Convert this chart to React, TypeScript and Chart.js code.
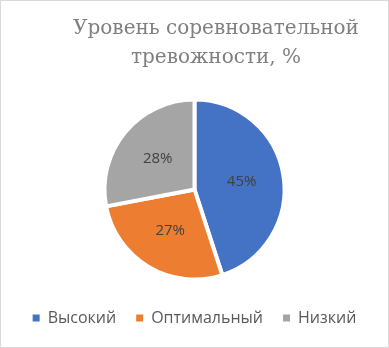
import React, { useEffect, useRef } from "react";
import { Chart, registerables } from "chart.js";

Chart.register(...registerables);

const categories = ["Высокий", "Оптимальный", "Низкий"];
const values = [45, 27, 28];
const colors = ["#4472C4", "#ED7D31", "#A5A5A5"];
const titleLines = ["Уровень соревновательной", "тревожности, %"];

const TITLE_FONT = "20px 'DejaVu Serif'";

const labelPlugin = {
  id: "sliceLabels",
  afterDatasetsDraw(chart: any) {
    const ctx = chart.ctx;
    const meta = chart.getDatasetMeta(0);
    const total = values.reduce((a, b) => a + b, 0);
    ctx.save();
    ctx.font = "15px 'Open Sans', sans-serif";
    ctx.fillStyle = "#404040";
    ctx.textAlign = "center";
    ctx.textBaseline = "middle";
    meta.data.forEach((arc: any, i: number) => {
      const p = arc.getProps(["x", "y", "startAngle", "endAngle", "outerRadius"], true);
      const mid = (p.startAngle + p.endAngle) / 2;
      const r = p.outerRadius * 0.53;
      const x = p.x + Math.cos(mid) * r;
      const y = p.y + Math.sin(mid) * r;
      ctx.fillText(Math.round((values[i] / total) * 100) + "%", x, y);
    });
    ctx.restore();
  },
};

const titlePlugin = {
  id: "offsetTitle",
  afterDraw(chart: any) {
    const ctx = chart.ctx;
    ctx.save();
    ctx.font = TITLE_FONT;
    ctx.fillStyle = "#7f7f7f";
    ctx.textAlign = "center";
    ctx.textBaseline = "middle";
    ctx.fillText(titleLines[0], 215, 28);
    ctx.fillText(titleLines[1], 215, 57);
    ctx.restore();
  },
};

export default function App() {
  const ref = useRef<HTMLCanvasElement>(null);
  useEffect(() => {
    document.body.style.margin = "0";
    let chart: any = null;
    let cancelled = false;
    const make = () => {
      if (cancelled) return;
      chart = new Chart(ref.current!, {
        type: "pie",
        data: {
          labels: categories,
          datasets: [
            {
              data: values,
              backgroundColor: colors,
              borderColor: "#ffffff",
              borderWidth: 4,
            },
          ],
        },
        options: {
          animation: false,
          responsive: false,
          maintainAspectRatio: false,
          radius: 90,
          layout: { padding: { top: 88, bottom: 11, left: 0, right: 0 } },
          plugins: {
            tooltip: { enabled: false },
            title: { display: false },
            legend: {
              position: "bottom",
              labels: {
                usePointStyle: true,
                pointStyle: "rect",
                boxWidth: 7,
                boxHeight: 7,
                color: "#595959",
                font: { family: "'Open Sans', sans-serif", size: 16 },
                padding: 20,
                generateLabels: (chart: any) =>
                  Chart.overrides.pie.plugins.legend.labels
                    .generateLabels(chart)
                    .map((l: any) => ({ ...l, lineWidth: 0, strokeStyle: "rgba(0,0,0,0)" })),
              },
            },
          },
        } as any,
        plugins: [labelPlugin, titlePlugin],
      });
    };
    const fonts: any = (document as any).fonts;
    if (fonts && fonts.load) {
      Promise.all([fonts.load(TITLE_FONT, titleLines[0]), fonts.load("16px 'Open Sans'", "Высокий")])
        .catch(() => null)
        .then(make);
    } else make();
    return () => {
      cancelled = true;
      if (chart) chart.destroy();
    };
  }, []);
  return (
    <div
      style={{
        position: "absolute",
        left: 0,
        top: 0,
        width: 389,
        height: 348,
        border: "1px solid #d9d9d9",
        boxSizing: "border-box",
        background: "#fff",
      }}
    >
      <canvas ref={ref} width={387} height={346} style={{ display: "block" }} />
    </div>
  );
}
